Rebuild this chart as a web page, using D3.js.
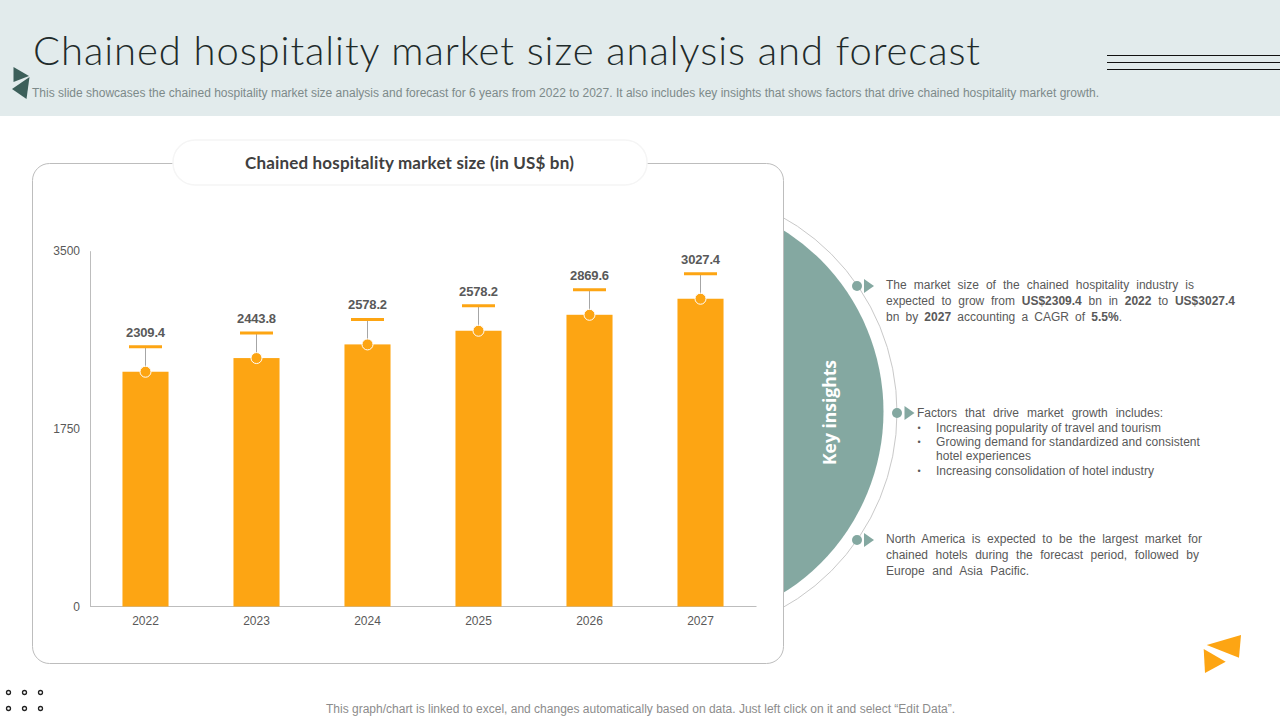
<!DOCTYPE html>
<html>
<head>
<meta charset="utf-8">
<title>Chained hospitality market size</title>
<script src="https://cdn.jsdelivr.net/npm/d3@7"></script>
<style>
  html, body { margin: 0; padding: 0; background: #fff; }
  svg { display: block; }
  text { font-family: "Liberation Sans", Arial, sans-serif; }
</style>
</head>
<body>
<svg id="chart" width="1280" height="720"></svg>
<script>
// chart values
const years = ['2022', '2023', '2024', '2025', '2026', '2027'];
const marketSize = [2309.4, 2443.8, 2578.2, 2712.6, 2869.6, 3027.4]; // bar heights
const dataLabels = ['2309.4', '2443.8', '2578.2', '2578.2', '2869.6', '3027.4']; // as printed on the slide
const yTicks = [0, 1750, 3500];

const titleText = 'Chained hospitality market size analysis and forecast';
const subtitleText = 'This slide showcases the chained hospitality market size analysis and forecast for 6 years from 2022 to 2027. It also includes key insights that shows factors that drive chained hospitality market growth.';
const chartTitle = 'Chained hospitality market size (in US$ bn)';
const footerText = 'This graph/chart is linked to excel, and changes automatically based on data. Just left click on it and select \u201cEdit Data\u201d.';

// each line is a list of [text, bold] runs
const insightOne = [
  [['The market size of the chained hospitality industry is', false]],
  [['expected to grow from ', false], ['US$2309.4', true], [' bn in ', false], ['2022', true], [' to ', false], ['US$3027.4', true]],
  [['bn by ', false], ['2027', true], [' accounting a CAGR of ', false], ['5.5%', true], ['.', false]]
];
const insightTwoHead = 'Factors that drive market growth includes:';
const insightTwoItems = ['Increasing popularity of travel and tourism', 'Growing demand for standardized and consistent', 'hotel experiences', 'Increasing consolidation of hotel industry'];
const insightThree = ['North America is expected to be the largest market for', 'chained hotels during the forecast period, followed by', 'Europe and Asia Pacific.'];

const orange = '#fda513';
const teal = '#84a8a1';
const darkTeal = '#3c5f5a';
const textGrey = '#595959';

const svg = d3.select('#chart');

/**
 * Stretches a text to a given width with word spacing (slide text is justified).
 */
function fitWidth(sel, width) {
  const node = sel.node();
  const gaps = node.textContent.split(' ').length - 1;
  const extra = width - node.getComputedTextLength();
  if (gaps > 0) sel.style('word-spacing', (extra / gaps) + 'px');
  return sel;
}

/**
 * Stretches a text to a given width with letter spacing.
 */
function fitLetters(sel, width) {
  const node = sel.node();
  const n = node.textContent.length;
  const extra = width - node.getComputedTextLength();
  sel.style('letter-spacing', (extra / n) + 'px');
  return sel;
}

function polygon(points, fill) {
  svg.append('polygon')
    .attr('points', points.map(p => p.join(',')).join(' '))
    .attr('fill', fill);
}

// Header band
svg.append('rect').attr('width', 1280).attr('height', 116).attr('fill', '#e2ebec');

fitLetters(svg.append('text')
  .attr('x', 33).attr('y', 65)
  .style('font-family', 'Lato, sans-serif')
  .style('font-weight', 300)
  .attr('font-size', 40)
  .attr('fill', '#1f2b2b')
  .text(titleText), 948);

fitLetters(svg.append('text')
  .attr('x', 32).attr('y', 97)
  .attr('font-size', 12)
  .attr('fill', '#7d8a8a')
  .text(subtitleText), 1067);

polygon([[13.5, 67], [29, 76], [13.5, 82]], darkTeal);
polygon([[29.5, 77], [12, 89], [26.5, 99]], darkTeal);

[55.5, 62.5, 69.5].forEach(y => {
  svg.append('line')
    .attr('x1', 1107).attr('x2', 1280)
    .attr('y1', y).attr('y2', y)
    .attr('stroke', '#111').attr('stroke-width', 1);
});

// Half circle behind the card
svg.append('circle').attr('cx', 673).attr('cy', 412.5).attr('r', 224)
  .attr('fill', '#fff').attr('stroke', '#c9c9c9').attr('stroke-width', 1);
svg.append('circle').attr('cx', 669).attr('cy', 411.5).attr('r', 214.5).attr('fill', teal);

svg.append('text')
  .attr('transform', 'translate(836,412.5) rotate(-90)')
  .attr('text-anchor', 'middle')
  .style('font-family', '"Open Sans", sans-serif')
  .style('font-weight', 700)
  .attr('font-size', 17.5)
  .attr('fill', '#fff')
  .text('Key insights');

// Chart card
svg.append('rect')
  .attr('x', 32.5).attr('y', 163.5).attr('width', 751).attr('height', 500).attr('rx', 17)
  .attr('fill', '#fff').attr('stroke', '#bdbdbd').attr('stroke-width', 1);

svg.append('rect')
  .attr('x', 173).attr('y', 140).attr('width', 474).attr('height', 45).attr('rx', 22)
  .attr('fill', '#fff').attr('stroke', '#f5f5f5').attr('stroke-width', 1.5);

fitLetters(svg.append('text')
  .attr('x', 245).attr('y', 169)
  .style('font-family', 'Lato, sans-serif')
  .style('font-weight', 700)
  .attr('font-size', 17)
  .attr('fill', '#404040')
  .text(chartTitle), 329);

// Scales and axes (d3 axes add their own half pixel offset)
const x = d3.scaleBand().domain(years).range([90, 756]).paddingInner(0.585).paddingOuter(0.2925);
const y = d3.scaleLinear().domain([0, 3500]).range([606.5, 250.7]);

const xAxis = svg.append('g')
  .attr('transform', 'translate(0,606)')
  .call(d3.axisBottom(x).tickSize(0).tickPadding(10));
const yAxis = svg.append('g')
  .attr('transform', 'translate(90,0)')
  .call(d3.axisLeft(y).tickValues(yTicks).tickSize(0).tickPadding(10).tickFormat(d3.format('d')));

[xAxis, yAxis].forEach(axis => {
  axis.select('.domain').attr('stroke', '#bdbdbd');
  axis.selectAll('text')
    .style('font-family', '"Liberation Sans", Arial, sans-serif')
    .attr('font-size', 12)
    .attr('fill', textGrey);
});

// Bars with their callouts
const calloutLift = 25;
const bars = svg.append('g').selectAll('g')
  .data(years.map((year, i) => ({ year, value: marketSize[i], label: dataLabels[i] })))
  .join('g');

bars.append('rect')
  .attr('x', d => x(d.year))
  .attr('y', d => y(d.value))
  .attr('width', x.bandwidth())
  .attr('height', d => y(0) - y(d.value))
  .attr('fill', orange);

const cx = d => x(d.year) + x.bandwidth() / 2;

bars.append('line')
  .attr('x1', cx).attr('x2', cx)
  .attr('y1', d => y(d.value))
  .attr('y2', d => y(d.value) - calloutLift)
  .attr('stroke', '#a6a6a6').attr('stroke-width', 1);

bars.append('line')
  .attr('x1', d => cx(d) - 16.5).attr('x2', d => cx(d) + 16.5)
  .attr('y1', d => y(d.value) - calloutLift)
  .attr('y2', d => y(d.value) - calloutLift)
  .attr('stroke', orange).attr('stroke-width', 3);

bars.append('circle')
  .attr('cx', cx)
  .attr('cy', d => y(d.value))
  .attr('r', 5.5)
  .attr('fill', orange)
  .attr('stroke', '#fff').attr('stroke-width', 1);

bars.append('text')
  .attr('x', cx)
  .attr('y', d => y(d.value) - calloutLift - 10)
  .attr('text-anchor', 'middle')
  .attr('font-size', 13)
  .attr('font-weight', 700)
  .attr('fill', textGrey)
  .style('letter-spacing', '-0.15px')
  .text(d => d.label);

// Key insight markers
[[857, 286, 864], [897, 413, 904.5], [857, 540, 864]].forEach(([dotX, dotY, triX]) => {
  svg.append('circle').attr('cx', dotX).attr('cy', dotY).attr('r', 5).attr('fill', teal);
  polygon([[triX, dotY - 7], [triX + 10, dotY], [triX, dotY + 7]], teal);
});

// Key insight text
const insightOneWidths = [308, 349, 236];
insightOne.forEach((runs, i) => {
  const line = svg.append('text')
    .attr('x', 886).attr('y', 289 + i * 16)
    .attr('font-size', 12).attr('fill', textGrey);
  runs.forEach(([t, bold]) => {
    line.append('tspan').attr('font-weight', bold ? 700 : 400).text(t);
  });
  fitWidth(line, insightOneWidths[i]);
});

fitWidth(svg.append('text')
  .attr('x', 917).attr('y', 417)
  .attr('font-size', 12).attr('fill', textGrey)
  .text(insightTwoHead), 246);

const itemRows = [432, 446, 460, 475];
const itemWidths = [225, 264, 95, 218];
insightTwoItems.forEach((t, i) => {
  fitLetters(svg.append('text')
    .attr('x', 936).attr('y', itemRows[i])
    .attr('font-size', 12).attr('fill', textGrey)
    .text(t), itemWidths[i]);
  if (i !== 2) {
    svg.append('text')
      .attr('x', 917.5).attr('y', itemRows[i] - 1)
      .attr('font-size', 9).attr('fill', textGrey)
      .text('\u2022');
  }
});

const insightThreeWidths = [316, 313, 143];
insightThree.forEach((t, i) => {
  fitWidth(svg.append('text')
    .attr('x', 886).attr('y', 543 + i * 16)
    .attr('font-size', 12).attr('fill', textGrey)
    .text(t), insightThreeWidths[i]);
});

// Bottom right mark
polygon([[1206.7, 645], [1241, 635], [1239, 657.7]], orange);
polygon([[1203.7, 649], [1225.7, 661.7], [1205, 673]], orange);

// Dots, bottom left
[692.5, 708.5].forEach(dotY => {
  [8.5, 24.5, 40.5].forEach(dotX => {
    svg.append('circle')
      .attr('cx', dotX).attr('cy', dotY).attr('r', 2)
      .attr('fill', '#fff').attr('stroke', '#222').attr('stroke-width', 1.3);
  });
});

// Footer note
fitLetters(svg.append('text')
  .attr('x', 326).attr('y', 713)
  .attr('font-size', 12)
  .attr('fill', '#8c8c8c')
  .text(footerText), 629);
</script>
</body>
</html>
